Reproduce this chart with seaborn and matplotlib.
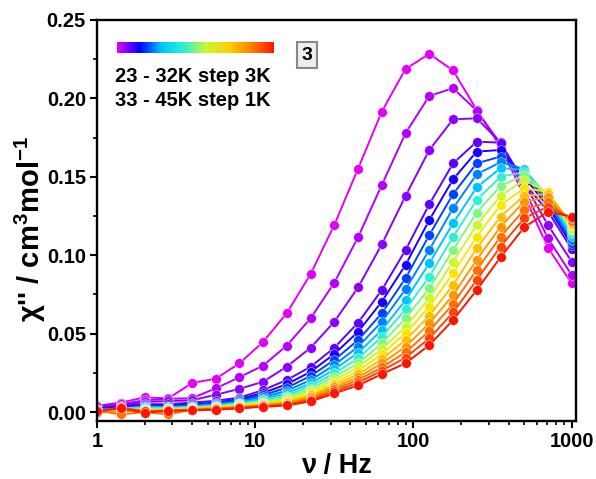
import numpy as np
import pandas as pd
import matplotlib
matplotlib.use("Agg")
import matplotlib.pyplot as plt
import seaborn as sns
from matplotlib.colors import LinearSegmentedColormap
from matplotlib.ticker import MultipleLocator, FixedLocator, LogLocator, NullFormatter, FuncFormatter

# ---------------- data ----------------
freq = [1.0, 1.41, 2.0, 2.82, 3.98, 5.62, 7.94, 11.2, 15.8, 22.4, 31.6,
        44.7, 63.1, 89.1, 126, 178, 251, 355, 501, 708, 1000]

temps = [23, 26, 29, 32, 33, 34, 35, 36, 37, 38, 39, 40, 41, 42, 43, 44, 45]

chi_23K = [0.004, 0.006, 0.0094, 0.0087, 0.0185, 0.0213, 0.031, 0.0447, 0.063, 0.088, 0.1193,
           0.1553, 0.1916, 0.2188, 0.2284, 0.2178, 0.1927, 0.169, 0.138, 0.1048, 0.0821]
chi_26K = [0.004, 0.005, 0.0075, 0.0085, 0.0088, 0.0151, 0.0222, 0.0296, 0.0423, 0.0598, 0.0825,
           0.1116, 0.1448, 0.1778, 0.2016, 0.2065, 0.1922, 0.171, 0.142, 0.1108, 0.0874]
chi_29K = [0.003, 0.004, 0.0065, 0.007, 0.0075, 0.011, 0.0148, 0.0193, 0.0289, 0.041, 0.0576,
           0.0795, 0.107, 0.1378, 0.1671, 0.1867, 0.1873, 0.172, 0.146, 0.1193, 0.0959]
chi_32K = [0.002, 0.004, 0.005, 0.005, 0.006, 0.0072, 0.0092, 0.014, 0.0204, 0.0289, 0.041,
           0.057, 0.0778, 0.1033, 0.1325, 0.1586, 0.1724, 0.1718, 0.146, 0.128, 0.104]
chi_33K = [0.002, 0.003, 0.0045, 0.004, 0.005, 0.006, 0.0082, 0.0122, 0.0177, 0.0257, 0.037,
           0.0512, 0.0704, 0.0938, 0.1225, 0.1484, 0.1661, 0.1671, 0.150, 0.131, 0.1065]
chi_34K = [0.001, 0.003, 0.004, 0.0035, 0.0045, 0.0055, 0.0075, 0.0108, 0.0155, 0.023, 0.0332,
           0.0459, 0.063, 0.0853, 0.1129, 0.139, 0.1586, 0.1629, 0.153, 0.133, 0.108]
chi_35K = [0.001, 0.002, 0.0035, 0.003, 0.004, 0.005, 0.0068, 0.0095, 0.0136, 0.0204, 0.030,
           0.0417, 0.0576, 0.0783, 0.1034, 0.130, 0.1516, 0.1593, 0.155, 0.135, 0.110]
chi_36K = [0.0015, 0.002, 0.003, 0.003, 0.0035, 0.0045, 0.006, 0.0085, 0.0119, 0.0183, 0.0272,
           0.0378, 0.0523, 0.0714, 0.0949, 0.1204, 0.1433, 0.1555, 0.1545, 0.137, 0.112]
chi_37K = [0.0005, 0.0025, 0.0028, 0.0025, 0.003, 0.004, 0.0055, 0.0075, 0.0105, 0.0166, 0.0247,
           0.0342, 0.048, 0.0655, 0.0863, 0.1118, 0.1352, 0.1501, 0.153, 0.138, 0.114]
chi_38K = [0.001, 0.0015, 0.002, 0.002, 0.0028, 0.0035, 0.005, 0.0067, 0.0093, 0.0149, 0.0225,
           0.031, 0.0438, 0.0598, 0.0789, 0.1034, 0.1272, 0.1442, 0.151, 0.139, 0.116]
chi_39K = [0.0, 0.002, 0.0015, 0.0018, 0.0025, 0.0032, 0.0045, 0.006, 0.0082, 0.0134, 0.0204,
           0.0285, 0.0402, 0.0544, 0.0725, 0.096, 0.1193, 0.1378, 0.148, 0.140, 0.117]
chi_40K = [0.0005, 0.001, 0.0012, 0.0015, 0.0022, 0.003, 0.004, 0.0054, 0.0073, 0.0119, 0.0187,
           0.0262, 0.037, 0.0502, 0.0672, 0.0885, 0.1118, 0.132, 0.1427, 0.1405, 0.119]
chi_41K = [0.0, 0.0015, 0.001, 0.001, 0.002, 0.0027, 0.0036, 0.0049, 0.0065, 0.0106, 0.0172,
           0.024, 0.0338, 0.0459, 0.0614, 0.081, 0.1044, 0.1246, 0.138, 0.139, 0.120]
chi_42K = [-0.0005, 0.0005, 0.0008, 0.0005, 0.0018, 0.0024, 0.0032, 0.0044, 0.0058, 0.0096, 0.0157,
           0.0221, 0.0311, 0.0417, 0.0566, 0.0746, 0.097, 0.1182, 0.1342, 0.137, 0.121]
chi_43K = [0.001, -0.0015, 0.0, -0.0015, 0.0015, 0.0022, 0.003, 0.004, 0.0052, 0.0085, 0.0145,
           0.0204, 0.0285, 0.0381, 0.0517, 0.069, 0.0906, 0.1118, 0.1289, 0.134, 0.122]
chi_44K = [0.0, 0.003, 0.0005, 0.001, 0.001, 0.0018, 0.0027, 0.0037, 0.0047, 0.0077, 0.0132,
           0.0187, 0.0264, 0.0347, 0.047, 0.0635, 0.0842, 0.1055, 0.1236, 0.131, 0.1235]
chi_45K = [0.0005, 0.0025, -0.0005, 0.0008, 0.0012, 0.0015, 0.0023, 0.0034, 0.0042, 0.0068, 0.0119,
           0.017, 0.0242, 0.0311, 0.0427, 0.0587, 0.0778, 0.0987, 0.1178, 0.1278, 0.1246]

series = [chi_23K, chi_26K, chi_29K, chi_32K, chi_33K, chi_34K, chi_35K, chi_36K, chi_37K,
          chi_38K, chi_39K, chi_40K, chi_41K, chi_42K, chi_43K, chi_44K, chi_45K]

legend_line1 = "23 - 32K step 3K"
legend_line2 = "33 - 45K step 1K"
compound_label = "3"
x_label = "ν / Hz"
y_label = "χ'' / cm$^{3}$mol$^{-1}$"

# ---------------- style ----------------
sns.set_theme(style="ticks")
plt.rcParams["font.family"] = ["Liberation Sans", "DejaVu Sans"]
plt.rcParams["font.weight"] = "bold"
plt.rcParams["text.color"] = "black"
plt.rcParams["axes.labelcolor"] = "black"
plt.rcParams["xtick.color"] = "black"
plt.rcParams["ytick.color"] = "black"
plt.rcParams["mathtext.fontset"] = "custom"
plt.rcParams["mathtext.rm"] = "Liberation Sans:bold"
plt.rcParams["mathtext.it"] = "Liberation Sans:bold"
plt.rcParams["mathtext.bf"] = "Liberation Sans:bold"

palette = ['#E400F8', '#B400F8', '#8C00FF', '#6000FF', '#1A00FF', '#0040FF', '#0080FF',
           '#00C4FF', '#30F0D0', '#80F880', '#C8F830', '#F8E800', '#FFC000', '#FF9800',
           '#FF7000', '#FF4400', '#FF1400']

rows = []
for T, vals in zip(temps, series):
    for f, v in zip(freq, vals):
        rows.append({"freq": f, "chi": v, "T": T})
df = pd.DataFrame(rows)

fig = plt.figure(figsize=(5.96, 4.79), dpi=100)
ax = fig.add_axes([97/596, 1-421/479, (576-97)/596, (421-20)/479])

for T, col in zip(temps, palette):
    sub = df[df["T"] == T]
    sns.lineplot(data=sub, x="freq", y="chi", ax=ax, color=col, marker="o",
                 markersize=7, markeredgecolor="white", markeredgewidth=0.3,
                 linewidth=1.4, legend=False, estimator=None, sort=False)

ax.set_xscale("log")
ax.set_xlim(1, 1065)
ax.set_ylim(-0.0057, 0.25)
ax.yaxis.set_major_locator(MultipleLocator(0.05))
ax.yaxis.set_minor_locator(MultipleLocator(0.025))
ax.yaxis.set_major_formatter(FuncFormatter(lambda v, p: f"{v:.2f}"))
ax.xaxis.set_major_locator(FixedLocator([1, 10, 100, 1000]))
ax.xaxis.set_major_formatter(FuncFormatter(lambda v, p: f"{v:g}"))
ax.xaxis.set_minor_locator(LogLocator(base=10, subs=np.arange(2, 10)))
ax.xaxis.set_minor_formatter(NullFormatter())

for s in ax.spines.values():
    s.set_linewidth(1.7)
    s.set_color("black")
ax.tick_params(which="major", direction="out", length=5, width=1.5, labelsize=14.5,
               colors="black", top=False, right=False, pad=3)
ax.tick_params(which="minor", direction="out", length=3, width=1.2, top=False, right=False)
for lab in ax.get_xticklabels() + ax.get_yticklabels():
    lab.set_fontweight("bold")

ax.set_xlabel(x_label, fontsize=19.5, fontweight="bold", labelpad=1)
ax.set_ylabel(y_label, fontsize=21, fontweight="bold")
ax.yaxis.set_label_coords(-0.102, 0.48)

# gradient bar legend
cmap = LinearSegmentedColormap.from_list(
    "rb", ['#E400F8', '#0000FF', '#00C8FF', '#30F0D0', '#C8F830', '#FFD000', '#FF8000', '#FF1400'])
cax = fig.add_axes([117/596, 1-53/479, 157/596, 11/479])
cax.imshow(np.linspace(0, 1, 256)[None, :], aspect="auto", cmap=cmap)
cax.set_axis_off()

fig.text(115/596, 1-77/479, legend_line1, fontsize=14.5, fontweight="bold", va="center", ha="left")
fig.text(115/596, 1-101/479, legend_line2, fontsize=14.5, fontweight="bold", va="center", ha="left")
fig.text(307/596, 1-55/479, compound_label, fontsize=14, fontweight="bold", va="center", ha="center",
         bbox=dict(boxstyle="square,pad=0.22", facecolor="#EEEEEE", edgecolor="#888888", linewidth=1.5))

fig.savefig("out.png", dpi=100)
